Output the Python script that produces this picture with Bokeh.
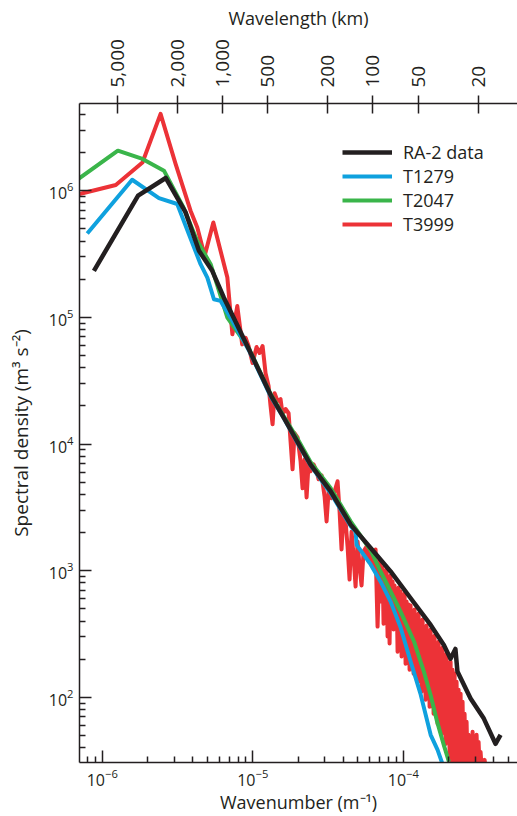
from bokeh.plotting import figure
from bokeh.models import (LogAxis, FixedTicker, CustomJSTickFormatter, Legend,
                          LegendItem, Range1d)
from bokeh.embed import file_html
from bokeh.resources import INLINE

# ---------------- data ----------------
ra2_k = [8.8e-7, 1.73e-6, 2.64e-6, 3.58e-6, 4.39e-6, 5.38e-6, 6.43e-6, 7.69e-6,
         9.42e-6, 1.31e-5, 1.61e-5, 2.0e-5, 2.42e-5, 3.29e-5, 4.47e-5, 6.07e-5,
         8.24e-5, 1.12e-4, 1.52e-4, 1.86e-4, 2.06e-4, 2.22e-4, 2.29e-4, 2.80e-4,
         3.43e-4, 4.10e-4, 4.43e-4]
ra2_s = [2.33e5, 9.13e5, 1.26e6, 6.74e5, 3.35e5, 2.33e5, 1.43e5, 9.22e4,
         5.6e4, 2.46e4, 1.61e4, 1.02e4, 6.88e3, 4.24e3, 2.31e3, 1.51e3,
         986, 606, 373, 259, 202, 241, 160, 98,
         68, 43, 50.6]

t1279_k = [7.95e-7, 1.58e-6, 2.38e-6, 3.15e-6, 3.76e-6, 4.50e-6, 4.99e-6, 5.52e-6,
           6.11e-6, 7.12e-6, 9.42e-6, 1.31e-5, 1.61e-5, 2.0e-5, 2.42e-5, 3.29e-5,
           4.47e-5, 4.82e-5, 4.90e-5, 6.07e-5, 7.06e-5, 8.24e-5, 9.60e-5, 1.12e-4,
           1.30e-4, 1.52e-4, 1.69e-4, 1.82e-4]
t1279_s = [4.59e5, 1.22e6, 8.75e5, 7.85e5, 4.54e5, 2.63e5, 2.06e5, 1.39e5,
           1.35e5, 9.95e4, 5.5e4, 2.4e4, 1.6e4, 1.0e4, 6.8e3, 4.1e3,
           2.25e3, 2.04e3, 1.60e3, 1.12e3, 822, 570, 356, 191,
           107, 50.6, 38.5, 29.9]

t2047_k = [6.35e-7, 1.27e-6, 1.85e-6, 2.57e-6, 3.47e-6, 4.27e-6, 5.25e-6, 6.78e-6,
           9.42e-6, 1.31e-5, 1.61e-5, 2.0e-5, 2.42e-5, 3.29e-5, 4.47e-5, 6.07e-5,
           7.06e-5, 8.24e-5, 9.60e-5, 1.18e-4, 1.37e-4, 1.52e-4, 1.68e-4, 1.86e-4,
           2.01e-4]
t2047_s = [1.15e6, 2.07e6, 1.78e6, 1.44e6, 7.34e5, 4.02e5, 2.63e5, 9.95e4,
           5.7e4, 2.5e4, 1.65e4, 1.08e4, 7.2e3, 4.5e3, 2.45e3, 1.45e3,
           986, 685, 475, 275, 160, 104, 64, 42,
           31]

t3999_k = [6.13e-7, 1.23e-6, 1.85e-6, 2.44e-6, 3.07e-6, 3.86e-6, 4.28e-6, 4.79e-6,
           5.47e-6, 6.78e-6, 7.32e-6, 7.89e-6, 8.51e-6, 8.96e-6,
           9.38e-6, 9.97e-6, 1.060e-5, 1.110e-5, 1.162e-5, 1.216e-5, 1.274e-5, 1.313e-5,
           1.354e-5, 1.396e-5, 1.462e-5, 1.530e-5, 1.578e-5, 1.652e-5, 1.730e-5, 1.783e-5,
           1.838e-5, 1.895e-5, 1.984e-5, 2.078e-5, 2.142e-5, 2.209e-5, 2.278e-5, 2.349e-5,
           2.422e-5, 2.535e-5, 2.654e-5, 2.737e-5, 2.865e-5, 3.000e-5, 3.093e-5, 3.189e-5,
           3.339e-5, 3.496e-5, 3.660e-5, 3.774e-5, 3.890e-5, 4.011e-5, 4.136e-5, 4.265e-5,
           4.397e-5, 4.534e-5, 4.675e-5, 4.821e-5, 4.969e-5, 5.124e-5, 5.283e-5, 5.447e-5,
           5.703e-5, 5.880e-5, 6.157e-5, 6.348e-5, 6.545e-5, 6.748e-5, 6.958e-5,
           7.066e-5, 7.175e-5, 7.286e-5, 7.398e-5, 7.512e-5, 7.628e-5, 7.746e-5, 7.865e-5,
           7.986e-5, 8.109e-5, 8.234e-5, 8.361e-5, 8.490e-5, 8.621e-5, 8.754e-5, 8.889e-5,
           9.026e-5, 9.165e-5, 9.306e-5, 9.450e-5, 9.596e-5, 9.744e-5, 9.894e-5, 1.0046e-4,
           1.0201e-4, 1.0358e-4, 1.0518e-4, 1.0680e-4, 1.0845e-4, 1.1012e-4, 1.1182e-4,
           1.1354e-4, 1.1529e-4, 1.1707e-4, 1.1888e-4, 1.2071e-4, 1.2257e-4, 1.2446e-4,
           1.2638e-4, 1.2833e-4, 1.3031e-4, 1.3232e-4, 1.3436e-4, 1.3643e-4, 1.3853e-4,
           1.4067e-4, 1.4284e-4, 1.4504e-4, 1.4728e-4, 1.4955e-4, 1.5185e-4, 1.5419e-4,
           1.5657e-4, 1.5898e-4, 1.6143e-4, 1.6392e-4, 1.6645e-4, 1.6902e-4, 1.7162e-4,
           1.7427e-4, 1.7696e-4, 1.7968e-4, 1.8245e-4, 1.8527e-4, 1.8812e-4, 1.9102e-4,
           1.9397e-4, 1.9696e-4, 2.0000e-4, 2.0308e-4, 2.0621e-4, 2.0939e-4, 2.1262e-4,
           2.1590e-4, 2.1923e-4, 2.2261e-4, 2.2604e-4, 2.2952e-4, 2.3306e-4, 2.3666e-4,
           2.4031e-4, 2.4401e-4, 2.4777e-4, 2.5160e-4, 2.5548e-4, 2.5941e-4, 2.6341e-4,
           2.6748e-4, 2.7160e-4, 2.7579e-4, 2.8004e-4, 2.8436e-4, 2.8874e-4, 2.9319e-4,
           2.9771e-4, 3.0230e-4, 3.0697e-4, 3.1170e-4, 3.1651e-4, 3.2139e-4, 3.2634e-4,
           3.3137e-4, 3.3648e-4, 3.4167e-4, 3.4694e-4, 3.5229e-4]
t3999_s = [9.03e5, 1.11e6, 1.67e6, 4.04e6, 1.63e6, 6.95e5, 5.13e5, 3.06e5,
           5.61e5, 2.06e5, 7.35e4, 1.23e5, 6.12e4, 6.9e4,
           5.94e4, 4.36e4, 5.83e4, 5.23e4, 5.94e4, 3.63e4, 2.87e4, 1.99e4,
           1.43e4, 2.52e4, 2.18e4, 2.26e4, 1.72e4, 1.89e4, 1.75e4, 1.05e4,
           6.32e3, 1.22e4, 1.13e4, 7.31e3, 4.47e3, 7.58e3, 3.79e3, 7.05e3,
           6.09e3, 6.92e3, 6.09e3, 5.27e3, 5.66e3, 3.86e3, 2.45e3, 4.23e3,
           3.73e3, 4.23e3, 5.08e3, 2.94e3, 1.47e3, 2.94e3, 2.45e3, 1.55e3,
           852, 2.04e3, 1.30e3, 750, 1.70e3, 1.08e3, 764, 1.42e3,
           1.55e3, 1.18e3, 1.42e3, 1.08e3, 1.47e3, 362, 1.18e3,
           1140, 571, 1060, 382, 950, 685, 1022, 302,
           900, 266, 916, 476, 821, 343, 764, 521,
           710, 229, 736, 362, 685, 210, 614, 330,
           660, 184, 571, 275, 540, 165, 530,
           238, 476, 154, 493, 191, 434, 133,
           459, 165, 396, 111, 411, 143, 355,
           95.7, 369, 115, 330, 84.2, 343, 95.7,
           296, 74.2, 307, 84.2, 266, 61.8, 275,
           70.2, 238, 51.5, 247, 57.5, 210, 42.9,
           221, 46.2, 184, 33.9, 191, 28.2, 165,
           28.2, 154, 28.2, 133, 28.2, 115, 28.2,
           107, 28.2, 92.3, 28.2, 74.2, 28.2, 64.1,
           28.2, 50.6, 28.2, 48.8, 28.2, 53.4, 28.2,
           47.9, 28.2, 50.6, 28.2, 44.5, 28.2, 37.1,
           28.2, 30.9, 28.2, 32.1, 28.2]

wavelength_km = [5000, 2000, 1000, 500, 200, 100, 50, 20]
x_major = [1e-6, 1e-5, 1e-4]
y_major = [1e2, 1e3, 1e4, 1e5, 1e6]

# ---------------- styling ----------------
INK = "#231f20"
FONT = "Open Sans"
BLACK = "#231f20"
BLUE = "#0fa1de"
GREEN = "#3ab54a"
RED = "#ec3237"

p = figure(width=517, height=816, x_axis_type="log", y_axis_type="log",
           x_range=Range1d(7.06e-7, 5.74e-4), y_range=Range1d(30.6, 4.88e6),
           output_backend="svg", toolbar_location=None,
           min_border_left=79, min_border_right=0, min_border_top=103,
           min_border_bottom=54)
p.outline_line_color = None
p.grid.visible = False
p.background_fill_color = "white"

r_red = p.line(t3999_k, t3999_s, line_color=RED, line_width=4, line_join="round")
r_green = p.line(t2047_k, t2047_s, line_color=GREEN, line_width=4, line_join="round")
r_blue = p.line(t1279_k, t1279_s, line_color=BLUE, line_width=4, line_join="round")
r_black = p.line(ra2_k, ra2_s, line_color=BLACK, line_width=4.5, line_join="round")

def minors(exps):
    return [m * 10.0 ** e for e in exps for m in range(2, 10)]

# bottom axis
xa = p.xaxis[0]
xa.ticker = FixedTicker(ticks=x_major, minor_ticks=minors(range(-7, -3)))
xa.axis_label = "Wavenumber (m\u207b\u00b9)"
# left axis
ya = p.yaxis[0]
ya.ticker = FixedTicker(ticks=y_major, minor_ticks=minors(range(1, 7)))
ya.axis_label = "Spectral density (m\u00b3 s\u207b\u00b2)"

for ax in (xa, ya):
    ax.major_tick_in = 12
    ax.major_tick_out = 0
    ax.minor_tick_in = 6
    ax.minor_tick_out = 0
    ax.axis_line_width = 1.5
    ax.axis_line_color = INK
    ax.major_tick_line_color = INK
    ax.minor_tick_line_color = INK
    ax.major_tick_line_width = 1.5
    ax.minor_tick_line_width = 1.5
    ax.major_label_text_font = FONT
    ax.major_label_text_font_size = "16px"
    ax.major_label_text_color = INK
    ax.axis_label_text_font = FONT
    ax.axis_label_text_font_size = "18px"
    ax.axis_label_text_font_style = "normal"
    ax.axis_label_text_color = INK

xa.major_label_standoff = 6
xa.axis_label_standoff = 1
ya.major_label_standoff = 6
ya.axis_label_standoff = 12
ya.axis_label_text_font_size = "19px"

# top axis: wavelength
top_ticks = [2 * 3.141592653589793 / (lam * 1000.0) for lam in wavelength_km]
ta = LogAxis(ticker=FixedTicker(ticks=top_ticks, minor_ticks=[]),
             formatter=CustomJSTickFormatter(code=r"""
const km = Math.round(2*Math.PI/tick/1000);
return km.toString().replace(/\B(?=(\d{3})+(?!\d))/g, ",");
"""),
             axis_label="Wavelength (km)",
             major_label_orientation="vertical")
ta.major_tick_in = 10
ta.major_tick_out = 8
ta.minor_tick_in = 0
ta.minor_tick_out = 0
ta.axis_line_width = 1.5
ta.axis_line_color = INK
ta.major_tick_line_color = INK
ta.major_tick_line_width = 1.5
ta.major_label_text_font = FONT
ta.major_label_text_font_size = "19px"
ta.major_label_text_color = INK
ta.major_label_standoff = 8
ta.axis_label_text_font = FONT
ta.axis_label_text_font_size = "18px"
ta.axis_label_text_font_style = "normal"
ta.axis_label_text_color = INK
ta.axis_label_standoff = 6
p.add_layout(ta, "above")

legend = Legend(items=[LegendItem(label="RA-2 data", renderers=[r_black]),
                       LegendItem(label="T1279", renderers=[r_blue]),
                       LegendItem(label="T2047", renderers=[r_green]),
                       LegendItem(label="T3999", renderers=[r_red])],
                location=(263, 526))
legend.border_line_color = None
legend.background_fill_alpha = 0
legend.padding = 0
legend.margin = 0
legend.spacing = -3
legend.glyph_width = 50
legend.glyph_height = 20
legend.label_height = 20
legend.label_standoff = 11
legend.label_text_font = FONT
legend.label_text_font_size = "18px"
legend.label_text_color = INK
p.add_layout(legend)

open("out.html", "w").write(file_html(p, INLINE))
